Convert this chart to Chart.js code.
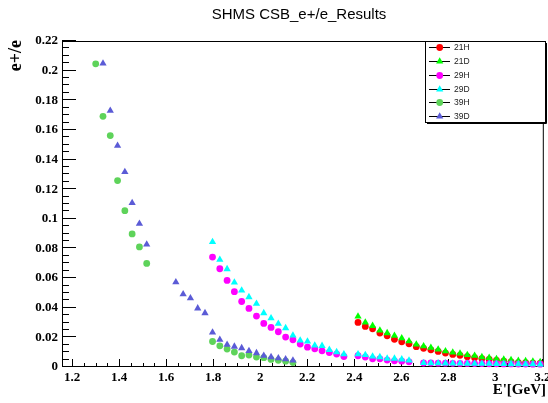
<!DOCTYPE html>
<html>
<head>
<meta charset="utf-8">
<title>SHMS CSB_e+/e_Results</title>
<script src="https://cdn.jsdelivr.net/npm/chart.js"></script>
<style>
  body { margin: 0; background: #fff; }
  canvas { display: block; }
</style>
</head>
<body>
<canvas id="chart" width="548" height="403"></canvas>
<script>
// E' values (GeV) and e+/e ratios
const e21 = [2.416, 2.447, 2.478, 2.509, 2.540, 2.571, 2.602, 2.633, 2.664, 2.695, 2.726, 2.757, 2.788,
  2.819, 2.850, 2.881, 2.912, 2.943, 2.974, 3.005, 3.036, 3.067, 3.098, 3.129, 3.160, 3.191];
const h21 = [0.0301, 0.0274, 0.0258, 0.0229, 0.0211, 0.0187, 0.0170, 0.0157, 0.0137, 0.0126, 0.0116, 0.0105, 0.0094,
  0.0085, 0.0079, 0.0070, 0.0063, 0.0057, 0.0051, 0.0045, 0.0040, 0.0035, 0.0030, 0.0029, 0.0026, 0.0024];
const d21 = [0.0341, 0.0301, 0.0278, 0.0247, 0.0229, 0.0211, 0.0194, 0.0174, 0.0153, 0.0141, 0.0131, 0.0119, 0.0107,
  0.0099, 0.0091, 0.0082, 0.0076, 0.0067, 0.0062, 0.0054, 0.0051, 0.0047, 0.0042, 0.0040, 0.0037, 0.0034];

const e29 = [1.797, 1.828, 1.859, 1.890, 1.921, 1.952, 1.984, 2.015, 2.046, 2.077, 2.108, 2.139, 2.170, 2.201,
  2.232, 2.263, 2.294, 2.325, 2.356,
  2.416, 2.447, 2.478, 2.509, 2.540, 2.571, 2.602, 2.633,
  2.695, 2.726, 2.757, 2.788, 2.819, 2.850, 2.881, 2.912, 2.943, 2.974, 3.005, 3.036, 3.067, 3.098, 3.129, 3.160, 3.191];
const h29 = [0.0742, 0.0663, 0.0584, 0.0508, 0.0442, 0.0395, 0.0344, 0.0294, 0.0267, 0.0238, 0.0202, 0.0184, 0.0155,
  0.0134, 0.0123, 0.0109, 0.0098, 0.0087, 0.0071,
  0.0076, 0.0067, 0.0055, 0.0055, 0.0047, 0.0042, 0.0039, 0.0035,
  0.0027, 0.0027, 0.0026, 0.0026, 0.0025, 0.0024, 0.0024, 0.0023, 0.0023, 0.0022, 0.0022, 0.0021, 0.0021, 0.0020,
  0.0020, 0.0019, 0.0019];
const d29 = [0.0844, 0.0724, 0.0661, 0.0571, 0.0517, 0.0472, 0.0427, 0.0364, 0.0330, 0.0292, 0.0263, 0.0213, 0.0179,
  0.0172, 0.0145, 0.0143, 0.0116, 0.0101, 0.0087,
  0.0087, 0.0082, 0.0071, 0.0067, 0.0057, 0.0057, 0.0052, 0.0045,
  0.0027, 0.0026, 0.0026, 0.0025, 0.0024, 0.0024, 0.0023, 0.0023, 0.0022, 0.0022, 0.0021, 0.0021, 0.0020, 0.0020,
  0.0019, 0.0019, 0.0018];

const e39H = [1.300, 1.331, 1.362, 1.393, 1.424, 1.455, 1.486, 1.517,
  1.797, 1.828, 1.859, 1.890, 1.921, 1.952, 1.984, 2.015, 2.046, 2.077, 2.108, 2.139];
const h39 = [0.2046, 0.1692, 0.1562, 0.1258, 0.1055, 0.0898, 0.0810, 0.0699,
  0.0172, 0.0143, 0.0121, 0.0101, 0.0076, 0.0081, 0.0067, 0.0063, 0.0051, 0.0045, 0.0039, 0.0030];
const e39D = [1.331, 1.362, 1.393, 1.424, 1.455, 1.486, 1.517,
  1.641, 1.672, 1.703, 1.734, 1.765,
  1.797, 1.828, 1.859, 1.890, 1.921, 1.952, 1.984, 2.015, 2.046, 2.077, 2.108, 2.139];
const d39 = [0.2048, 0.1730, 0.1494, 0.1317, 0.1107, 0.0967, 0.0827,
  0.0573, 0.0492, 0.0465, 0.0396, 0.0364,
  0.0233, 0.0184, 0.0150, 0.0138, 0.0128, 0.0109, 0.0094, 0.0076, 0.0067, 0.0060, 0.0053, 0.0044];

const seriesNames = ['21H', '21D', '29H', '29D', '39H', '39D'];
const seriesColors = ['#ff0000', '#00ff00', '#ff00ff', '#00ffff', '#5ed35a', '#5b5bd6'];

const xTicks = [1.2, 1.4, 1.6, 1.8, 2, 2.2, 2.4, 2.6, 2.8, 3, 3.2];
const yTicks = [0, 0.02, 0.04, 0.06, 0.08, 0.1, 0.12, 0.14, 0.16, 0.18, 0.2, 0.22];

function toPoints(xs, ys) {
  return xs.map(function (x, i) {
    return { x: x, y: ys[i] };
  });
}

function markerStyle(name) {
  return name.endsWith('H') ? { style: 'circle', radius: 3.4 } : { style: 'triangle', radius: 4.2 };
}

function makeDataset(i, xs, ys) {
  const m = markerStyle(seriesNames[i]);
  return {
    label: seriesNames[i],
    data: toPoints(xs, ys),
    pointStyle: m.style,
    pointRadius: m.radius,
    backgroundColor: seriesColors[i],
    borderColor: seriesColors[i],
    borderWidth: 0,
    showLine: false,
    clip: false,
    order: 6 - i
  };
}

// ROOT style frame with ticks pointing inwards
const frame = {
  id: 'frame',
  beforeDatasetsDraw(chart) {
    const { ctx, chartArea: a, scales } = chart;
    ctx.save();
    ctx.strokeStyle = '#000';
    ctx.lineWidth = 1;
    ctx.strokeRect(a.left + 0.5, a.top + 0.5, a.right - a.left - 1, a.bottom - a.top - 1);
    ctx.beginPath();
    for (let k = 0; k <= 44; k++) {
      const py = Math.round(scales.y.getPixelForValue(k * 0.005)) - 0.5;
      const len = k % 4 === 0 ? 14 : 7;
      ctx.moveTo(a.left, py);
      ctx.lineTo(a.left + len, py);
    }
    for (let k = 24; k <= 64; k++) {
      const px = Math.round(scales.x.getPixelForValue(k * 0.05)) + 0.5;
      const len = k % 4 === 0 ? 8 : 4;
      ctx.moveTo(px, a.bottom);
      ctx.lineTo(px, a.bottom - len);
    }
    ctx.stroke();
    ctx.restore();
  },
  afterDraw(chart) {
    const ctx = chart.ctx;
    ctx.save();
    ctx.fillStyle = '#000';
    ctx.font = '15px "Liberation Sans"';
    ctx.textAlign = 'center';
    ctx.textBaseline = 'alphabetic';
    ctx.fillText('SHMS CSB_e+/e_Results', 299, 19);

    ctx.font = 'bold 15px "Liberation Serif"';
    ctx.textAlign = 'right';
    ctx.fillText("E'[GeV]", 546, 394);

    ctx.save();
    ctx.translate(20.5, 40);
    ctx.rotate(-Math.PI / 2);
    ctx.font = 'bold 18px "Liberation Serif"';
    ctx.textAlign = 'right';
    ctx.fillText('e+/e', 0, 0);
    ctx.restore();

    // legend box
    ctx.strokeStyle = '#000';
    ctx.lineWidth = 1;
    ctx.fillStyle = '#fff';
    ctx.fillRect(425.5, 41.5, 120, 81);
    ctx.strokeRect(425.5, 41.5, 120, 81);
    ctx.beginPath();
    ctx.moveTo(427, 123.5);
    ctx.lineTo(546.5, 123.5);
    ctx.lineTo(546.5, 43);
    ctx.stroke();
    ctx.font = '8.5px "Liberation Sans"';
    ctx.textAlign = 'left';
    ctx.textBaseline = 'middle';
    seriesNames.forEach(function (name, i) {
      const y = Math.round(47.3 + i * 13.75) + 0.5;
      const m = markerStyle(name);
      ctx.strokeStyle = '#000';
      ctx.beginPath();
      ctx.moveTo(429, y);
      ctx.lineTo(450, y);
      ctx.stroke();
      ctx.fillStyle = seriesColors[i];
      Chart.helpers.drawPoint(ctx, { pointStyle: m.style, radius: m.radius, borderWidth: 0, rotation: 0 }, 439.7, y);
      ctx.fillStyle = '#222';
      ctx.fillText(name, 454, y + 0.5);
    });
    ctx.restore();
  }
};

function fmt(v) {
  return String(Number(v.toFixed(2)));
}

const datasets = [
  makeDataset(0, e21, h21),
  makeDataset(1, e21, d21),
  makeDataset(2, e29, h29),
  makeDataset(3, e29, d29),
  makeDataset(4, e39H, h39),
  makeDataset(5, e39D, d39)
];

const tickFont = { family: 'Liberation Serif', size: 13, weight: 'bold' };

new Chart(document.getElementById('chart'), {
  type: 'scatter',
  data: { datasets: datasets },
  options: {
    responsive: false,
    animation: false,
    events: [],
    devicePixelRatio: 1,
    layout: { padding: { top: 41, right: 4, left: 0, bottom: 0 } },
    plugins: { legend: { display: false }, tooltip: { enabled: false }, title: { display: false } },
    scales: {
      x: {
        type: 'linear',
        min: 1.1566,
        max: 3.2064,
        grid: { display: false, drawTicks: false },
        border: { display: false },
        afterBuildTicks: function (scale) {
          scale.ticks = xTicks.map(function (v) { return { value: v }; });
        },
        afterFit: function (scale) {
          scale.height = 36;
          scale.paddingLeft = 0;
          scale.paddingRight = 0;
        },
        ticks: {
          autoSkip: false,
          maxRotation: 0,
          padding: 3,
          color: '#000',
          font: tickFont,
          callback: fmt
        }
      },
      y: {
        type: 'linear',
        min: 0,
        max: 0.22,
        grid: { display: false, drawTicks: false },
        border: { display: false },
        afterBuildTicks: function (scale) {
          scale.ticks = yTicks.map(function (v) { return { value: v }; });
        },
        afterFit: function (scale) {
          scale.width = 62;
          scale.paddingTop = 0;
          scale.paddingBottom = 0;
        },
        ticks: {
          autoSkip: false,
          padding: 4,
          color: '#000',
          font: tickFont,
          callback: fmt
        }
      }
    }
  },
  plugins: [frame]
});
</script>
</body>
</html>
